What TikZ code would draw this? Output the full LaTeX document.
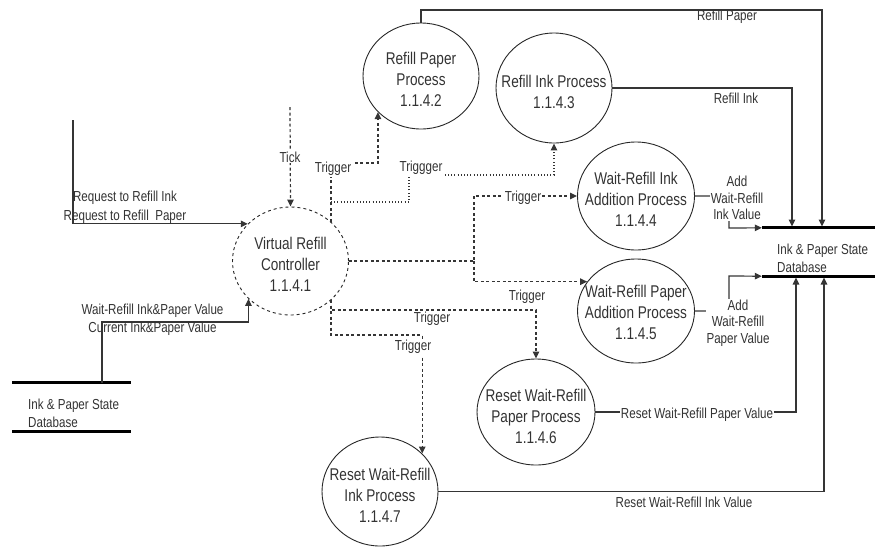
\documentclass[tikz,border=0pt]{standalone}
\usepackage{fontspec}
\setmainfont{Liberation Sans}[FakeStretch=0.8]
\usetikzlibrary{arrows.meta,shapes.geometric}
\definecolor{txt}{HTML}{333333}
\definecolor{wire}{HTML}{353535}
\begin{document}
\begin{tikzpicture}[x=1pt,y=-1pt,
  every node/.style={text=txt,font=\fontsize{14.5}{17}\selectfont},
  proc/.style={ellipse,draw=black!85,line width=0.9pt,inner sep=0pt,
               minimum width=116pt,minimum height=106pt},
  ptext/.style={align=center,inner sep=0pt,font=\fontsize{17}{21}\selectfont},
  store/.style={inner sep=0pt,minimum height=48pt},
  storeline/.style={draw=black,line width=2.8pt},
  flow/.style={draw=wire,line width=1.2pt,-{Triangle[length=7pt,width=6.5pt]}},
  trig/.style={flow,dash pattern=on 3pt off 2.5pt},
  dotline/.style={flow,dash pattern=on 1pt off 2.2pt},
  lbl/.style={align=center,inner sep=1pt},
  lblw/.style={lbl,fill=white},
]
\useasboundingbox (0,0) rectangle (875,547);

% processes
\node[proc,dashed,dash pattern=on 3pt off 3pt,minimum height=108pt] (ctrl) at (290.5,261) {};
\node[proc] (p2) at (421,76) {};
\node[proc,minimum height=110pt] (p3) at (554,88) {};
\node[proc,minimum width=117pt,minimum height=108pt] (p4) at (636,196) {};
\node[proc,minimum width=117pt,minimum height=104pt] (p5) at (636,311) {};
\node[proc,minimum width=118pt] (p6) at (536,412) {};
\node[proc,minimum height=109pt] (p7) at (380,491.5) {};

\node[ptext] (ctrlt) at (290.5,264) {Virtual Refill\\Controller\\1.1.4.1};
\node[ptext] (p2t) at (421,79) {Refill Paper\\Process\\1.1.4.2};
\node[ptext] (p3t) at (554,91.5) {Refill Ink Process\\1.1.4.3};
\node[ptext] (p4t) at (636,199) {Wait-Refill Ink\\Addition Process\\1.1.4.4};
\node[ptext] (p5t) at (636,312) {Wait-Refill Paper\\Addition Process\\1.1.4.5};
\node[ptext] (p6t) at (536,416) {Reset Wait-Refill\\Paper Process\\1.1.4.6};
\node[ptext] (p7t) at (380,495.5) {Reset Wait-Refill\\Ink Process\\1.1.4.7};

% data stores
\node[store,minimum width=113pt] (dsR) at (818.5,252) {};
\draw[storeline] (dsR.north west) -- (dsR.north east);
\draw[storeline] (dsR.south west) -- (dsR.south east);
\node[align=left,inner sep=0pt,anchor=west,font=\fontsize{14.5}{18}\selectfont] (dsRt) at (777,258) {Ink \& Paper State\\Database};

\node[store,minimum width=118pt] (dsL) at (71.5,407) {};
\draw[storeline] (dsL.north west) -- (dsL.north east);
\draw[storeline] (dsL.south west) -- (dsL.south east);
\node[align=left,inner sep=0pt,anchor=west,font=\fontsize{14.5}{18}\selectfont] (dsLt) at (28,413.5) {Ink \& Paper State\\Database};

% free ends
\coordinate (reqSrc) at (73,120);
\coordinate (tickSrc) at (290,107);
\coordinate (dbOut) at (102,383);
\coordinate (tsplit) at (331,202);
\coordinate (jR) at (474,261);
\coordinate (inPaper) at (822,226.5);
\coordinate (inInk) at (792,226.5);
\coordinate (inRPV) at (796,277.5);
\coordinate (inRIV) at (824,277.5);

% flows into the controller
\draw[flow] (reqSrc) |- (ctrl.139);
\draw[trig] (tickSrc) -- (ctrl.north);
\draw[flow] (dbOut) -- (dbOut |- 0,322) -| (ctrl.222);

% triggers
\draw[trig] (ctrl.44) -- (ctrl.44 |- 0,163) -| (p2.220);
\draw[dotline] (tsplit) -| (409,175) -| (p3.south);
\draw[trig] (ctrl.east) -- (jR) |- (p4.west);
\draw[trig] (jR) |- (p5.149);
\draw[trig] (ctrl.-44) -- (ctrl.-44 |- 0,310) -| (p6.north);
\draw[trig] (ctrl.-44) -- (ctrl.-44 |- 0,335) -| (p7.42);

% flows into the state database
\draw[flow] (p2.north) -- (p2.north |- 0,10) -| (inPaper);
\draw[flow] (p3.east) -| (inInk);
\draw[flow] (p4.east) -| (729,228) -- (dsR.north west);
\draw[flow] (p5.east) -| (729,276) -- (dsR.south west);
\draw[flow] (p6.east) -| (inRPV);
\draw[flow] (p7.east) -| (inRIV);

% labels
\node[lbl,font=\fontsize{14.5}{19}\selectfont] (lbReq) at (125,207.5) {Request to Refill Ink\\Request to Refill~ Paper};
\node[lblw] (lbTick) at (290,157) {Tick};
\node[lbl,font=\fontsize{14.5}{18}\selectfont] (lbDB) at (152.5,320) {Wait-Refill Ink\&Paper Value\\Current Ink\&Paper Value};
\node[lblw] (lbT1) at (333,169) {Trigger};
\node[lblw] (lbT2) at (421,168) {Triggger};
\node[lblw] (lbT3) at (523,198) {Trigger};
\node[lbl] (lbT4) at (527,297) {Trigger};
\node[lbl] (lbT5) at (432,319) {Trigger};
\node[lblw] (lbT6) at (413,347) {Trigger};
\node[lbl] (lbRP) at (727,17) {Refill Paper};
\node[lbl] (lbRI) at (736,98) {Refill Ink};
\node[lblw,font=\fontsize{14.5}{16.5}\selectfont] (lbAI) at (737,198) {Add\\Wait-Refill\\Ink Value};
\node[lblw,font=\fontsize{14.5}{16.5}\selectfont] (lbAP) at (738,323) {Add\\Wait-Refill\\Paper Value};
\node[lblw] (lbRPV) at (697,415) {Reset Wait-Refill Paper Value};
\node[lbl] (lbRIV) at (684,502) {Reset Wait-Refill Ink Value};
\end{tikzpicture}
\end{document}
